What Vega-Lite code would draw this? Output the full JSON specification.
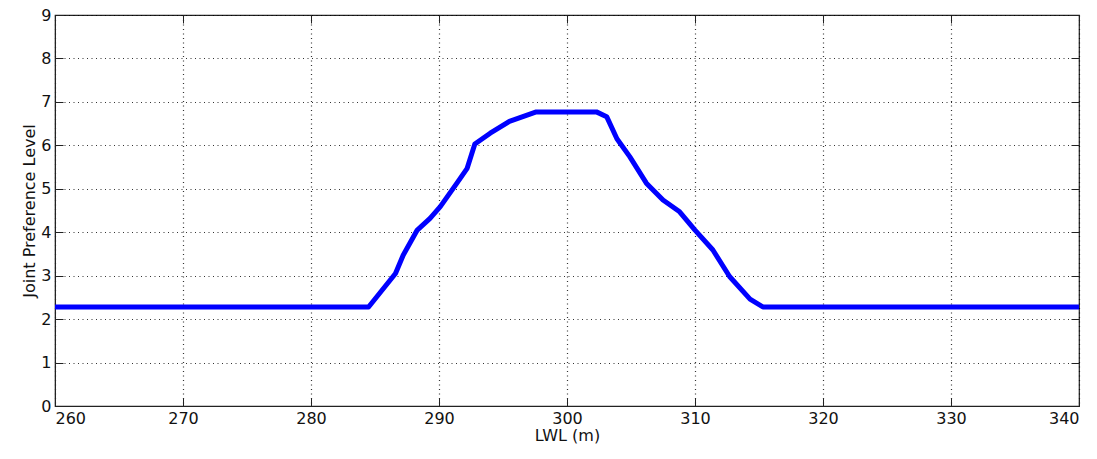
{
  "$schema": "https://vega.github.io/schema/vega-lite/v6.json",
  "width": 1024,
  "height": 391,
  "autosize": {"type": "none"},
  "padding": {"left": 55, "top": 15, "right": 18, "bottom": 53},
  "background": "white",
  "config": {
    "view": {"stroke": "#222222", "strokeWidth": 1.2},
    "axis": {
      "labelFont": "DejaVu Sans",
      "titleFont": "DejaVu Sans",
      "titleFontWeight": "normal",
      "labelColor": "#111111",
      "titleColor": "#111111",
      "domainColor": "#222222",
      "tickColor": "#222222",
      "gridColor": "#000000",
      "gridDash": [1, 3.5],
      "gridOpacity": 0.8,
      "gridWidth": 1.2,
      "tickSize": -8
    }
  },
  "data": {
    "values": [
      {"lwl": 260, "level": 2.28},
      {"lwl": 270, "level": 2.28},
      {"lwl": 280, "level": 2.28},
      {"lwl": 284.5, "level": 2.28},
      {"lwl": 286.6, "level": 3.05},
      {"lwl": 287.2, "level": 3.47},
      {"lwl": 288.3, "level": 4.05},
      {"lwl": 289.3, "level": 4.32},
      {"lwl": 290.1, "level": 4.59},
      {"lwl": 291.4, "level": 5.13},
      {"lwl": 292.2, "level": 5.47},
      {"lwl": 292.8, "level": 6.03},
      {"lwl": 294.0, "level": 6.28},
      {"lwl": 295.5, "level": 6.55},
      {"lwl": 297.6, "level": 6.77},
      {"lwl": 302.3, "level": 6.77},
      {"lwl": 303.1, "level": 6.66},
      {"lwl": 303.9, "level": 6.15},
      {"lwl": 304.9, "level": 5.74},
      {"lwl": 306.2, "level": 5.13},
      {"lwl": 307.5, "level": 4.74},
      {"lwl": 308.8, "level": 4.47},
      {"lwl": 310.0, "level": 4.05},
      {"lwl": 311.4, "level": 3.59},
      {"lwl": 312.7, "level": 2.98},
      {"lwl": 314.3, "level": 2.46},
      {"lwl": 315.3, "level": 2.28},
      {"lwl": 320, "level": 2.28},
      {"lwl": 330, "level": 2.28},
      {"lwl": 340, "level": 2.28}
    ]
  },
  "resolve": {"scale": {"x": "independent", "y": "independent"}, "axis": {"x": "independent", "y": "independent"}},
  "layer": [
    {
      "mark": {"type": "line", "color": "#0000FF", "strokeWidth": 5, "strokeJoin": "round", "strokeCap": "butt"},
      "encoding": {
        "x": {
          "field": "lwl",
          "type": "quantitative",
          "scale": {"domain": [260, 340], "nice": false, "zero": false},
          "axis": {"orient": "bottom", "values": [260, 270, 280, 290, 300, 310, 320, 330, 340], "title": "LWL (m)", "titlePadding": 1, "labelPadding": 12, "labelFontSize": 16, "titleFontSize": 16}
        },
        "y": {
          "field": "level",
          "type": "quantitative",
          "scale": {"domain": [0, 9], "nice": false},
          "axis": {"orient": "left", "values": [0, 1, 2, 3, 4, 5, 6, 7, 8, 9], "title": "Joint Preference Level", "titlePadding": 3, "labelPadding": 12, "labelFontSize": 16, "titleFontSize": 16}
        }
      }
    },
    {
      "mark": {"type": "point", "opacity": 0},
      "encoding": {
        "x": {
          "field": "lwl",
          "type": "quantitative",
          "scale": {"domain": [260, 340], "nice": false, "zero": false},
          "axis": {"orient": "top", "values": [260, 270, 280, 290, 300, 310, 320, 330, 340], "labels": false, "title": null, "grid": false, "domain": false, "ticks": true, "tickSize": -8, "tickColor": "#222222"}
        },
        "y": {
          "field": "level",
          "type": "quantitative",
          "scale": {"domain": [0, 9], "nice": false},
          "axis": {"orient": "right", "values": [0, 1, 2, 3, 4, 5, 6, 7, 8, 9], "labels": false, "title": null, "grid": false, "domain": false, "ticks": true, "tickSize": -8, "tickColor": "#222222"}
        }
      }
    }
  ]
}
